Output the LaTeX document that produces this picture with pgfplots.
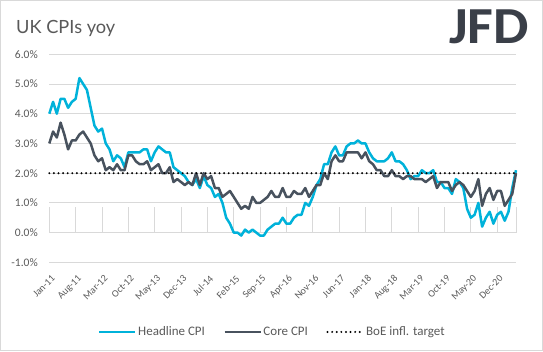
\documentclass[border=0pt]{standalone}
\usepackage{pgfplots}
\pgfplotsset{compat=1.18}
\usepackage{pgfplotstable}
\usepackage{fontspec}
\setmainfont{Carlito}
\newfontfamily\titlefont{Lato}
\definecolor{headc}{RGB}{0,178,218}
\definecolor{corec}{RGB}{72,82,94}
\definecolor{gridc}{RGB}{217,217,217}
\definecolor{txtc}{RGB}{89,89,89}
\definecolor{logoc}{RGB}{58,63,72}

\pgfplotstableread{
h c
4.0 3.0
4.4 3.4
4.0 3.2
4.5 3.7
4.5 3.3
4.2 2.8
4.4 3.1
4.5 3.1
5.2 3.3
5.0 3.4
4.8 3.2
4.2 3.0
3.6 2.6
3.4 2.4
3.5 2.5
3.0 2.1
2.8 2.2
2.4 2.1
2.6 2.3
2.5 2.1
2.2 2.1
2.7 2.6
2.7 2.6
2.7 2.4
2.7 2.3
2.8 2.3
2.8 2.4
2.4 2.1
2.7 2.2
2.9 2.3
2.8 2.0
2.7 2.0
2.7 2.2
2.2 1.7
2.1 1.8
2.0 1.7
1.9 1.6
1.7 1.7
1.6 1.6
1.8 2.0
1.5 1.6
1.9 2.0
1.6 1.8
1.5 1.9
1.2 1.5
1.3 1.5
1.0 1.2
0.5 1.3
0.3 1.4
0.0 1.2
0.0 1.0
-0.1 0.8
0.1 0.9
0.0 0.8
0.1 1.2
0.0 1.0
-0.1 1.0
-0.1 1.1
0.1 1.2
0.2 1.4
0.3 1.2
0.3 1.2
0.5 1.5
0.3 1.2
0.3 1.2
0.5 1.4
0.6 1.3
0.6 1.3
1.0 1.5
0.9 1.2
1.2 1.4
1.6 1.6
1.8 1.6
2.3 2.0
2.3 1.8
2.7 2.4
2.9 2.6
2.6 2.4
2.6 2.4
2.9 2.7
3.0 2.7
3.0 2.7
3.1 2.7
3.0 2.5
3.0 2.7
2.7 2.4
2.5 2.3
2.4 2.1
2.4 2.1
2.4 1.9
2.5 1.9
2.7 2.1
2.4 1.9
2.4 1.9
2.3 1.8
2.1 1.9
1.8 1.9
1.9 1.8
1.9 1.8
2.1 1.8
2.0 1.7
2.0 1.8
2.1 1.9
1.7 1.5
1.7 1.7
1.5 1.7
1.5 1.7
1.3 1.4
1.8 1.6
1.7 1.7
1.5 1.6
0.8 1.4
0.5 1.2
0.6 1.4
1.0 1.8
0.2 0.9
0.5 1.3
0.7 1.5
0.3 1.1
0.6 1.4
0.7 1.4
0.4 0.9
0.7 1.1
1.5 1.3
2.1 2.0
}\cpidata

\begin{document}
\begin{tikzpicture}[x=1pt,y=1pt]
\useasboundingbox (0,0) rectangle (543,351);
\draw[gridc, line width=0.8pt] (0.5,0.5) rectangle (542.5,350.5);
\node[anchor=base west, font=\titlefont\fontsize{18.2}{21}\selectfont, text=txtc, inner sep=0] at (16,317.7) {UK CPIs yoy};
\node[anchor=north east, font=\fontsize{52}{54}\bfseries\selectfont, text=logoc, inner sep=0, xscale=1.08] at (529,341) {JFD};
\begin{axis}[
  at={(49.3pt,88.7pt)}, anchor=south west,
  scale only axis, width=466.7pt, height=208pt,
  xmin=0, xmax=124, ymin=-1, ymax=6,
  axis line style={draw=none},
  tick style={draw=none},
  ytick={-1,0,...,6},
  yticklabel={\pgfmathprintnumber[fixed,fixed zerofill,precision=1]{\tick}\%},
  yticklabel style={font=\fontsize{11.5}{12}\selectfont, text=txtc, xshift=-8pt, /pgf/number format/assume math mode=true},
  ymajorgrids,
  grid style={gridc, line width=0.8pt},
  xtick={0,7,...,119},
  xticklabels={Jan-11,Aug-11,Mar-12,Oct-12,May-13,Dec-13,Jul-14,Feb-15,Sep-15,Apr-16,Nov-16,Jun-17,Jan-18,Aug-18,Mar-19,Oct-19,May-20,Dec-20},
  xticklabel style={rotate=45, anchor=north east, font=\fontsize{10}{11}\selectfont, text=txtc, xshift=-4pt, yshift=-6.3pt},
  legend columns=3,
  legend style={at={(0.1044,-0.335)}, anchor=west, draw=none, fill=none,
    font=\fontsize{13}{14}\selectfont, text=txtc, inner sep=0pt,
    nodes={inner sep=1.5pt},
    /tikz/every even column/.append style={column sep=17pt}},
  legend image code/.code={\draw[#1] (0pt,0pt) -- (36pt,0pt);},
  clip=false,
]
\draw[gridc, line width=0.8pt] (axis cs:0,0) -- (axis cs:124,0);
\pgfplotsinvokeforeach{0,7,14,21,28,35,42,49,56,63,70,77,84,91,98,105,112,119,124}{\draw[gridc, line width=0.8pt] (axis cs:#1,0) -- ++(0,-4.5pt);}
\addplot[headc, line width=2.5pt, line join=round] table[x expr=\coordindex, y=h] {\cpidata};
\addlegendentry{Headline CPI}
\addplot[corec, line width=2.5pt, line join=round] table[x expr=\coordindex, y=c] {\cpidata};
\addlegendentry{Core CPI}
\addplot[black, line width=2.2pt, line cap=round, dash pattern=on 0pt off 4.6pt] coordinates {(0,2) (124,2)};
\addlegendentry{BoE infl. target}
\end{axis}
\end{tikzpicture}
\end{document}
